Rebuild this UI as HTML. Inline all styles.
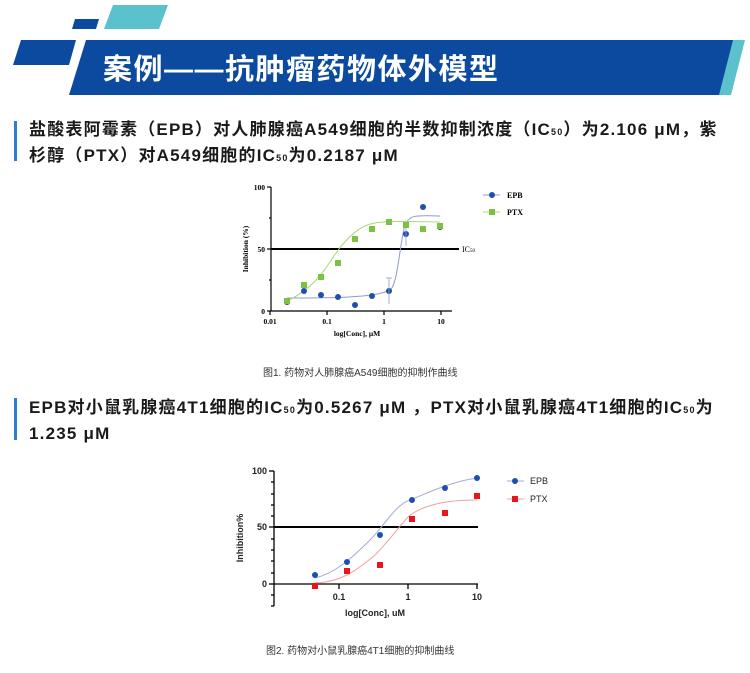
<!DOCTYPE html>
<html><head><meta charset="utf-8"><style>
body{margin:0;width:750px;height:673px;background:#fff;overflow:hidden;position:relative;font-family:"Liberation Sans","Noto Sans CJK SC",sans-serif;}
.h{position:absolute;left:29px;font-size:17px;letter-spacing:1.2px;font-weight:bold;color:#1a1a1a;line-height:24px;white-space:nowrap;}
.bar{position:absolute;left:14px;width:3px;background:#2a7fd0;}
.cap{position:absolute;font-size:10px;color:#333;}
</style></head><body>
<svg width="750" height="673" style="position:absolute;left:0;top:0" font-family="Liberation Sans, Noto Sans CJK SC, sans-serif">
<polygon points="113,5 168,5 159,29 104,29" fill="#5bc1cc"/>
<polygon points="75,19 99,19 96,29 72,29" fill="#0b4a9e"/>
<polygon points="21,40 76,40 69,65 13,65" fill="#0b4a9e"/>
<polygon points="724,40 745,40 731,95 711,95" fill="#5bc1cc"/>
<polygon points="86,40 733,40 719,95 69,95" fill="#0b4a9e"/>
<text x="103" y="79" font-size="29" letter-spacing="1.5" font-weight="bold" fill="#fff">案例——抗肿瘤药物体外模型</text>

<!-- Chart 1 -->
<g stroke="#000" stroke-width="1.2" fill="none">
<line x1="271" y1="187" x2="271" y2="311"/>
<line x1="271" y1="311" x2="452" y2="311"/>
<line x1="267" y1="187" x2="271" y2="187"/><line x1="267" y1="249" x2="271" y2="249"/><line x1="267" y1="311" x2="271" y2="311"/>
<line x1="269" y1="218" x2="271" y2="218"/><line x1="269" y1="280" x2="271" y2="280"/>
<line x1="270" y1="311" x2="270" y2="315"/><line x1="327" y1="311" x2="327" y2="315"/><line x1="384" y1="311" x2="384" y2="315"/><line x1="441" y1="311" x2="441" y2="315"/>
</g>
<line x1="271" y1="249" x2="459" y2="249" stroke="#000" stroke-width="2"/>
<text x="462" y="252" font-size="8" font-family="Liberation Serif, serif">IC<tspan font-size="5">50</tspan></text>
<g font-size="7.5" font-family="Liberation Serif, serif" font-weight="bold" text-anchor="end">
<text x="265" y="190">100</text><text x="265" y="252">50</text><text x="265" y="314">0</text></g>
<g font-size="7.5" font-family="Liberation Serif, serif" font-weight="bold" text-anchor="middle">
<text x="270" y="324">0.01</text><text x="327" y="324">0.1</text><text x="384" y="324">1</text><text x="441" y="324">10</text>
<text x="357" y="336">log[Conc], μM</text>
<text transform="translate(248,249) rotate(-90)" font-size="7.5">Inhibition (%)</text></g>
<path d="M287,298 C330,298 375,298 390,290 C398,285 400,240 405,225 C410,213 420,216 440,216" stroke="#8d9ad4" fill="none" stroke-width="1"/>
<path d="M287,301 C300,295 315,285 330,262 C345,238 360,225 375,223 C395,220 420,222 440,222" stroke="#a8d86f" fill="none" stroke-width="1"/>
<g fill="#1f4fae">
<circle cx="287" cy="302" r="3"/><circle cx="304" cy="291" r="3"/><circle cx="321" cy="295" r="3"/><circle cx="338" cy="297" r="3"/><circle cx="355" cy="305" r="3"/><circle cx="372" cy="296" r="3"/><circle cx="389" cy="291" r="3"/><circle cx="406" cy="234" r="3"/><circle cx="423" cy="207" r="3"/><circle cx="440" cy="227" r="3"/></g>
<g fill="#7cc242">
<rect x="284" y="298" width="6" height="6"/><rect x="301" y="282" width="6" height="6"/><rect x="318" y="274" width="6" height="6"/><rect x="335" y="260" width="6" height="6"/><rect x="352" y="236" width="6" height="6"/><rect x="369" y="226" width="6" height="6"/><rect x="386" y="219" width="6" height="6"/><rect x="403" y="222" width="6" height="6"/><rect x="420" y="226" width="6" height="6"/><rect x="437" y="223" width="6" height="6"/></g>
<g stroke="#8d9ad4" stroke-width="0.8"><line x1="389" y1="278" x2="389" y2="304"/><line x1="386" y1="278" x2="392" y2="278"/><line x1="406" y1="228" x2="406" y2="246"/></g>
<line x1="483" y1="195" x2="500" y2="195" stroke="#8d9ad4"/><circle cx="492" cy="195" r="3" fill="#1f4fae"/>
<line x1="483" y1="212" x2="500" y2="212" stroke="#a8d86f"/><rect x="489" y="209" width="6" height="6" fill="#7cc242"/>
<g font-size="8" font-family="Liberation Serif, serif" font-weight="bold"><text x="507" y="198">EPB</text><text x="507" y="215">PTX</text></g>

<!-- Chart 2 -->
<g stroke="#000" stroke-width="1.3" fill="none">
<line x1="274" y1="471" x2="274" y2="606"/>
<line x1="274" y1="584" x2="478" y2="584"/>
<line x1="269" y1="471" x2="274" y2="471"/><line x1="269" y1="527" x2="274" y2="527"/><line x1="269" y1="584" x2="274" y2="584"/>
<line x1="271" y1="482" x2="274" y2="482"/><line x1="271" y1="494" x2="274" y2="494"/><line x1="271" y1="505" x2="274" y2="505"/><line x1="271" y1="516" x2="274" y2="516"/><line x1="271" y1="539" x2="274" y2="539"/><line x1="271" y1="550" x2="274" y2="550"/><line x1="271" y1="561" x2="274" y2="561"/><line x1="271" y1="573" x2="274" y2="573"/><line x1="271" y1="595" x2="274" y2="595"/><line x1="271" y1="606" x2="274" y2="606"/>
<line x1="339" y1="584" x2="339" y2="589"/><line x1="408" y1="584" x2="408" y2="589"/><line x1="477" y1="584" x2="477" y2="589"/>
</g>
<line x1="274" y1="527" x2="478" y2="527" stroke="#000" stroke-width="2"/>
<g font-size="9" font-weight="bold" fill="#222" text-anchor="end">
<text x="267" y="474">100</text><text x="267" y="530">50</text><text x="267" y="587">0</text></g>
<g font-size="9" font-weight="bold" fill="#222" text-anchor="middle">
<text x="339" y="600">0.1</text><text x="408" y="600">1</text><text x="477" y="600">10</text>
<text x="375" y="616">log[Conc], uM</text>
<text transform="translate(243,538) rotate(-90)">Inhibition%</text></g>
<path d="M315,578 C335,573 350,560 370,540 C385,525 395,505 410,500 C430,492 450,482 477,478" stroke="#a3acd9" fill="none" stroke-width="1"/>
<path d="M315,583 C340,582 355,572 375,555 C390,540 400,525 410,515 C425,505 445,500 477,500" stroke="#f2a0a0" fill="none" stroke-width="1"/>
<g fill="#1f4fae">
<circle cx="315" cy="575" r="3"/><circle cx="347" cy="562" r="3"/><circle cx="380" cy="535" r="3"/><circle cx="412" cy="500" r="3"/><circle cx="445" cy="488" r="3"/><circle cx="477" cy="478" r="3"/></g>
<g fill="#e8141e">
<rect x="312" y="583" width="6" height="6"/><rect x="344" y="568" width="6" height="6"/><rect x="377" y="562" width="6" height="6"/><rect x="409" y="516" width="6" height="6"/><rect x="442" y="510" width="6" height="6"/><rect x="474" y="493" width="6" height="6"/></g>
<line x1="507" y1="481" x2="524" y2="481" stroke="#a3acd9"/><circle cx="515" cy="481" r="3" fill="#1f4fae"/>
<line x1="507" y1="499" x2="524" y2="499" stroke="#f2a0a0"/><rect x="512" y="496" width="6" height="6" fill="#e8141e"/>
<g font-size="9" fill="#222"><text x="530" y="484">EPB</text><text x="530" y="502">PTX</text></g>
</svg>
<div class="bar" style="top:121px;height:40px"></div>
<div class="h" style="top:118px">盐酸表阿霉素（EPB）对人肺腺癌A549细胞的半数抑制浓度（IC<span style="font-size:9px">50</span>）为2.106 μM，紫<br>杉醇（PTX）对A549细胞的IC<span style="font-size:9px">50</span>为0.2187 μM</div>
<div class="bar" style="top:398px;height:42px"></div>
<div class="h" style="top:396px">EPB对小鼠乳腺癌4T1细胞的IC<span style="font-size:9px">50</span>为0.5267 μM ，PTX对小鼠乳腺癌4T1细胞的IC<span style="font-size:9px">50</span>为<br>1.235 μM</div>
<div class="cap" style="left:263px;top:364px">图1. 药物对人肺腺癌A549细胞的抑制作曲线</div>
<div class="cap" style="left:266px;top:642px">图2. 药物对小鼠乳腺癌4T1细胞的抑制曲线</div>
</body></html>
